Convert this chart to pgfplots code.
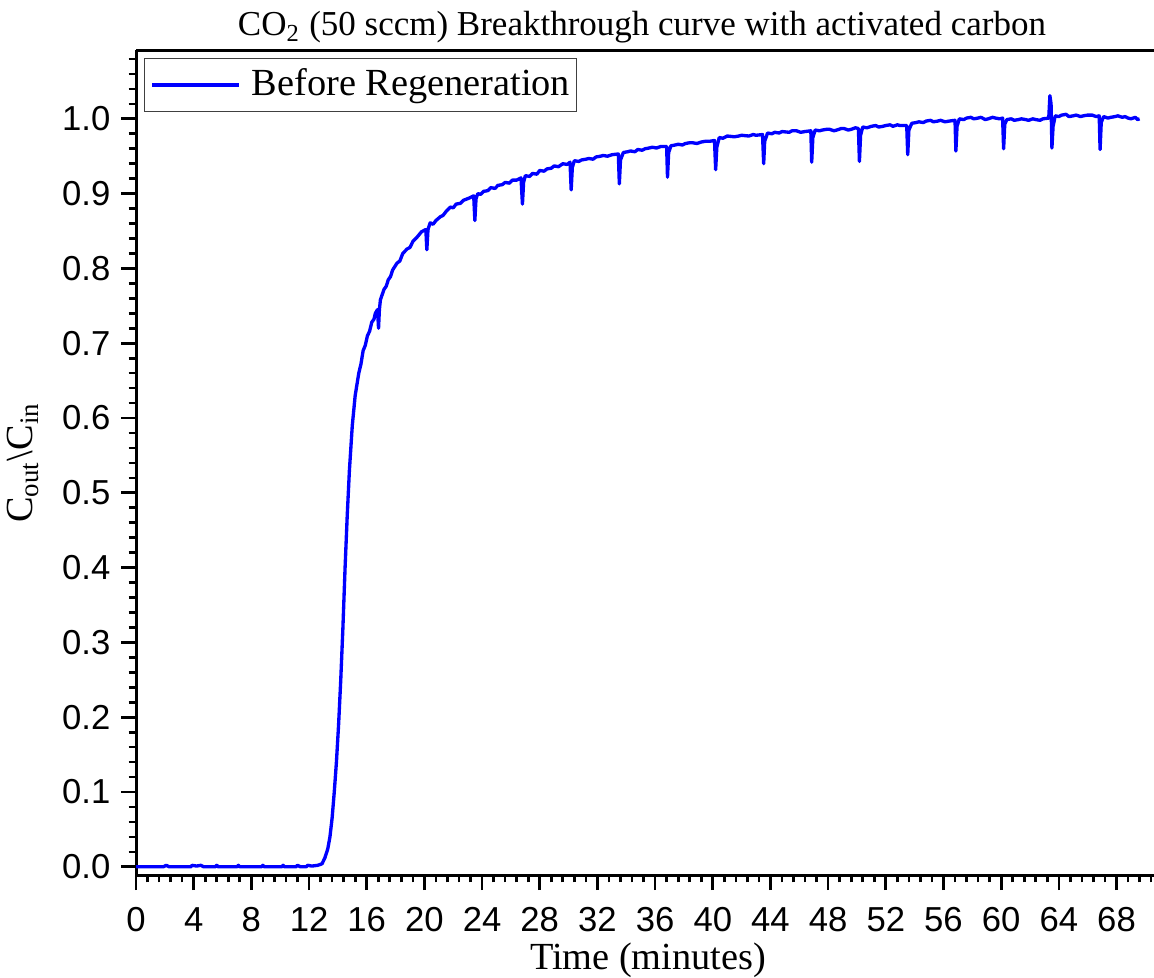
\documentclass[border=0pt]{standalone}
\usepackage{fontspec}
\setmainfont{Liberation Serif}
\newfontfamily\arialfont{Liberation Sans}
\usepackage{pgfplots}
\pgfplotsset{compat=1.18}
\usetikzlibrary{calc}
\definecolor{curveblue}{RGB}{0,0,255}
\begin{document}
\begin{tikzpicture}
\begin{axis}[
  scale only axis,
  width=305.4pt, height=247.5pt,
  xmin=0, xmax=70.6, ymin=-0.011, ymax=1.092,
  axis x line*=box, axis y line*=left,
  xtick pos=bottom, ytick pos=left,
  tick align=outside,
  xtick={0,4,8,12,16,20,24,28,32,36,40,44,48,52,56,60,64,68},
  minor xtick={0.8,1.6,...,70.4},
  ytick={0,0.1,0.2,0.3,0.4,0.5,0.6,0.7,0.8,0.9,1.0},
  minor ytick={0.02,0.04,...,1.081},
  yticklabel style={/pgf/number format/fixed, /pgf/number format/fixed zerofill, /pgf/number format/precision=1},
  major tick length=4.5pt, minor tick length=2.2pt,
  every tick/.style={black, line width=0.8pt},
  axis line style={line width=0.9pt},
  tick label style={font=\arialfont\fontsize{10.4}{12}\selectfont, inner sep=0pt},
  /pgf/number format/assume math mode=true,
  xticklabel style={anchor=north, yshift=-5pt},
  yticklabel style={anchor=east, xshift=-3pt},
  every axis title shift=0pt,
  title={CO\textsubscript{2} (50 sccm) Breakthrough curve with activated carbon},
  title style={at={(axis description cs:0.497,1.017)}, anchor=base, inner sep=0pt, font=\fontsize{10.5}{12}\selectfont},
  xlabel={Time (minutes)},
  xlabel style={at={(axis description cs:0.503,-0.1139)}, anchor=base, inner sep=0pt, font=\fontsize{11.5}{13}\selectfont},
  ylabel={C\textsubscript{out}\textbackslash C\textsubscript{in}},
  ylabel style={at={(axis description cs:-0.1012,0.5)}, anchor=base, inner sep=0pt, font=\fontsize{11.5}{13}\selectfont},
  legend style={at={(rel axis cs:0,1)}, anchor=north west, xshift=2.4pt, yshift=-2.4pt,
    draw=black!75, line width=0.3pt, font=\fontsize{11.5}{13}\selectfont,
    inner xsep=1.8pt, inner ysep=3.1pt, nodes={inner sep=0pt},
    /tikz/every odd column/.append style={column sep=3.3pt}},
  legend image code/.code={\draw[#1, line width=1pt] (0pt,0pt) -- (26.1pt,0pt);},
]
\addplot[curveblue, line width=1pt, line join=round] table {
t v
0 0
1.9 0
2.1 0.002
2.3 0
3.8 0
3.9 0.002
4.2 0.001
4.5 0.002
4.7 0
5.5 0
5.6 0.002
5.7 0
7.0 0
7.1 0.002
7.2 0
8.7 0
8.8 0.002
8.9 0
10.1 0
10.2 0.002
10.3 0
11.1 0
11.2 0.002
11.4 0
11.8 0
11.9 0.002
12.2 0.001
12.6 0.002
12.9 0.004
13.1 0.012
13.3 0.024
13.45 0.04
13.6 0.065
13.75 0.1
13.9 0.14
14.05 0.19
14.2 0.25
14.35 0.32
14.5 0.40
14.65 0.47
14.8 0.53
15.0 0.59
15.2 0.63
15.45 0.66
15.6 0.672
15.75 0.69
15.9 0.697
16.05 0.71
16.2 0.716
16.35 0.728
16.5 0.732
16.6 0.74
16.75 0.745
16.82 0.72
16.88 0.745
16.95 0.758
17.2 0.772
17.35 0.776
17.5 0.785
17.65 0.789
17.8 0.798
18.1 0.807
18.3 0.81
18.5 0.82
18.8 0.826
19.0 0.828
19.2 0.836
19.5 0.842
19.8 0.849
20.1 0.852
20.17 0.825
20.25 0.852
20.4 0.861
20.6 0.859
20.8 0.864
21.1 0.869
21.3 0.871
21.5 0.876
21.8 0.882
22.0 0.881
22.2 0.886
22.5 0.887
22.7 0.891
23.1 0.894
23.42 0.897
23.5 0.864
23.58 0.893
23.7 0.900
23.9 0.899
24.1 0.903
24.4 0.904
24.6 0.908
24.9 0.907
25.1 0.911
25.4 0.912
25.6 0.915
25.9 0.914
26.1 0.918
26.4 0.918
26.7 0.921
26.8 0.886
26.88 0.915
27.0 0.924
27.3 0.923
27.5 0.927
27.8 0.926
28.0 0.931
28.3 0.93
28.5 0.933
28.8 0.934
29.0 0.937
29.3 0.936
29.6 0.940
29.9 0.939
30.1 0.942
30.18 0.905
30.26 0.935
30.4 0.944
30.7 0.943
30.9 0.945
31.2 0.946
31.4 0.947
31.7 0.946
31.9 0.949
32.2 0.95
32.4 0.951
32.7 0.95
33.0 0.952
33.45 0.953
33.52 0.913
33.6 0.945
33.8 0.955
34.1 0.956
34.3 0.957
34.6 0.956
34.8 0.959
35.1 0.958
35.3 0.960
35.6 0.961
35.8 0.962
36.1 0.961
36.4 0.963
36.8 0.963
36.86 0.922
36.94 0.955
37.1 0.964
37.4 0.965
37.6 0.966
37.9 0.965
38.1 0.967
38.4 0.968
38.6 0.968
38.9 0.967
39.2 0.969
39.5 0.970
39.8 0.970
40.12 0.971
40.2 0.932
40.28 0.962
40.45 0.975
40.7 0.974
41.0 0.977
41.5 0.976
41.8 0.977
42.0 0.978
42.5 0.977
42.8 0.979
43.0 0.978
43.45 0.979
43.53 0.940
43.6 0.970
43.8 0.981
44.1 0.98
44.3 0.982
44.6 0.981
44.8 0.983
45.3 0.982
45.5 0.984
45.8 0.984
46.1 0.982
46.4 0.983
46.8 0.984
46.86 0.942
46.94 0.975
47.1 0.985
47.4 0.984
47.6 0.985
47.9 0.986
48.1 0.986
48.4 0.984
48.6 0.985
48.9 0.987
49.1 0.987
49.4 0.985
49.6 0.986
49.9 0.988
50.1 0.987
50.17 0.943
50.25 0.978
50.4 0.989
50.7 0.988
51.0 0.990
51.3 0.991
51.5 0.989
51.8 0.99
52.0 0.991
52.3 0.992
52.5 0.990
52.8 0.992
53.0 0.991
53.45 0.991
53.52 0.952
53.6 0.985
53.8 0.994
54.1 0.995
54.3 0.996
54.6 0.995
54.8 0.997
55.1 0.998
55.3 0.996
55.6 0.997
55.8 0.998
56.1 0.996
56.4 0.997
56.8 0.998
56.86 0.957
56.94 0.990
57.1 1.000
57.4 0.999
57.6 1.001
57.9 1.002
58.1 1.000
58.4 1.001
58.6 1.002
58.9 0.999
59.1 1.000
59.4 1.002
59.6 1.001
59.9 1.000
60.1 1.001
60.17 0.960
60.25 0.993
60.4 0.999
60.7 1.0
60.9 0.998
61.2 0.999
61.4 1.000
61.7 0.999
61.9 0.998
62.2 1.0
62.4 0.999
62.7 0.998
62.9 1.000
63.3 1.001
63.38 1.031
63.46 1.020
63.52 0.961
63.6 0.990
63.75 1.004
64.0 1.003
64.2 1.005
64.5 1.006
64.7 1.003
65.0 1.004
65.2 1.005
65.5 1.003
65.7 1.004
66.0 1.005
66.3 1.005
66.6 1.003
66.8 1.004
66.86 0.959
66.94 0.995
67.1 1.003
67.4 1.001
67.6 1.002
67.9 1.003
68.1 1.004
68.4 1.002
68.6 1.003
68.8 1.001
69.0 1.000
69.3 1.002
69.45 0.999
69.6 1.000
};
\addlegendentry{Before Regeneration}
\coordinate (ll) at (rel axis cs:0,0);
\coordinate (ur) at (rel axis cs:1,1);
\end{axis}
\pgfresetboundingbox
\path[use as bounding box] ($(ll)+(-40.8pt,-30.6pt)$) rectangle ($(ur)+(0pt,15pt)$);
\end{tikzpicture}
\end{document}
